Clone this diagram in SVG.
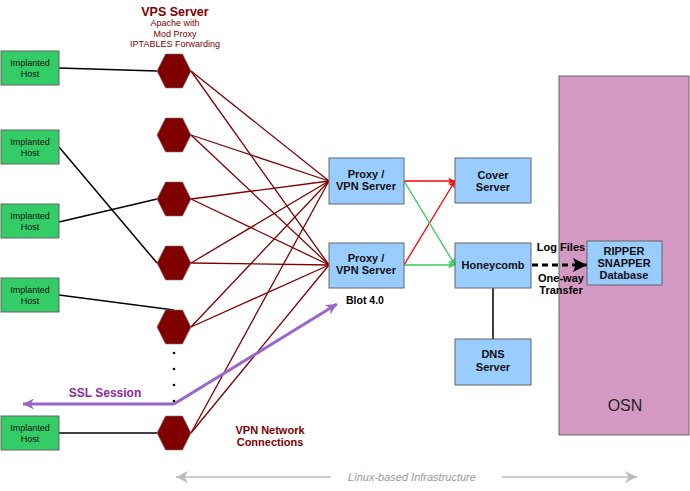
<svg xmlns="http://www.w3.org/2000/svg" width="690" height="491" viewBox="0 0 690 491">
<style>
text{font-family:"Liberation Sans",Arial,sans-serif;text-anchor:middle}
.host rect{fill:#33cc66;stroke:#666;stroke-width:1}
.host text{font-size:9px;fill:#111}
.hex{fill:#800000;stroke:#777;stroke-width:0.6}
.blue rect{fill:#99ccff;stroke:#666;stroke-width:1}
.blue text{font-size:11px;font-weight:bold;fill:#111}
.red{stroke:#800000;stroke-width:1.3;fill:none}
.blk{stroke:#000;stroke-width:1.5;fill:none}
.lbl{font-size:11px;font-weight:bold}
</style>
<defs>
<polygon id="hx" points="-17,0 -8.5,-17 8.5,-17 17,0 8.5,17 -8.5,17"/>
<marker id="ar" viewBox="0 0 10 10" refX="10" refY="5" markerWidth="7" markerHeight="7" orient="auto" markerUnits="userSpaceOnUse"><path d="M0,0L10,5L0,10L3,5z" fill="#ff0000"/></marker>
<marker id="ag" viewBox="0 0 10 10" refX="10" refY="5" markerWidth="7" markerHeight="7" orient="auto" markerUnits="userSpaceOnUse"><path d="M0,0L10,5L0,10L3,5z" fill="#33cc55"/></marker>
<marker id="ap" viewBox="0 0 10 10" refX="10" refY="5" markerWidth="13" markerHeight="11" orient="auto" markerUnits="userSpaceOnUse"><path d="M0,0L10,5L0,10L3,5z" fill="#9966cc"/></marker>
<marker id="ab" viewBox="0 0 10 10" refX="10" refY="5" markerWidth="16" markerHeight="14" orient="auto" markerUnits="userSpaceOnUse"><path d="M0,0L10,5L0,10L2,5z" fill="#000"/></marker>
<marker id="ay" viewBox="0 0 10 10" refX="10" refY="5" markerWidth="16" markerHeight="12" orient="auto" markerUnits="userSpaceOnUse"><path d="M0,0L10,5L0,10L3,5z" fill="#bbb"/></marker>
</defs>

<g id="osn">
<rect x="559" y="76" width="130" height="359" fill="#d399c2" stroke="#666" stroke-width="1"/>
<text x="625" y="411" style="font-size:16px;fill:#222">OSN</text>
</g>

<g id="connectors">
<g class="blk">
<line x1="59" y1="68" x2="157" y2="71"/>
<line x1="59" y1="147" x2="157" y2="263"/>
<line x1="59" y1="222" x2="157" y2="199"/>
<line x1="59" y1="295" x2="174" y2="310"/>
<line x1="59" y1="433" x2="157" y2="433"/>
<line x1="493" y1="288" x2="493" y2="339"/>
</g>
<g class="red">
<line x1="191" y1="71" x2="329" y2="181"/>
<line x1="191" y1="71" x2="329" y2="265"/>
<line x1="191" y1="135" x2="329" y2="181"/>
<line x1="191" y1="135" x2="329" y2="265"/>
<line x1="191" y1="199" x2="329" y2="181"/>
<line x1="191" y1="199" x2="329" y2="265"/>
<line x1="191" y1="263" x2="329" y2="181"/>
<line x1="191" y1="263" x2="329" y2="265"/>
<line x1="191" y1="327" x2="329" y2="181"/>
<line x1="191" y1="327" x2="329" y2="265"/>
<line x1="191" y1="433" x2="329" y2="181"/>
<line x1="191" y1="433" x2="329" y2="265"/>
</g>
<line x1="404" y1="181" x2="455" y2="181" stroke="#ff0000" stroke-width="1.3" marker-end="url(#ar)"/>
<line x1="404" y1="265" x2="455" y2="181" stroke="#ff0000" stroke-width="1.3" marker-end="url(#ar)"/>
<line x1="404" y1="181" x2="455" y2="265" stroke="#33cc55" stroke-width="1.3" marker-end="url(#ag)"/>
<line x1="404" y1="265" x2="455" y2="265" stroke="#33cc55" stroke-width="1.3" marker-end="url(#ag)"/>
<polyline points="174,404 23,404" fill="none" stroke="#9966cc" stroke-width="3" marker-end="url(#ap)"/>
<polyline points="174,404 337,304" fill="none" stroke="#9966cc" stroke-width="3" marker-end="url(#ap)"/>
<line x1="532" y1="265" x2="587" y2="265" stroke="#000" stroke-width="3" stroke-dasharray="6,4" marker-end="url(#ab)"/>
<line x1="331" y1="477" x2="176" y2="477" stroke="#bbb" stroke-width="1.3" marker-end="url(#ay)"/>
<line x1="502" y1="477" x2="637" y2="477" stroke="#bbb" stroke-width="1.3" marker-end="url(#ay)"/>
</g>

<g id="hosts">
<g id="host1" class="host"><rect x="1" y="51" width="58" height="34"/><text x="30" y="66">Implanted</text><text x="30" y="77">Host</text></g>
<g id="host2" class="host"><rect x="1" y="130" width="58" height="34"/><text x="30" y="145">Implanted</text><text x="30" y="156">Host</text></g>
<g id="host3" class="host"><rect x="1" y="204" width="58" height="34"/><text x="30" y="219">Implanted</text><text x="30" y="230">Host</text></g>
<g id="host4" class="host"><rect x="1" y="278" width="58" height="34"/><text x="30" y="293">Implanted</text><text x="30" y="304">Host</text></g>
<g id="host5" class="host"><rect x="1" y="416" width="58" height="34"/><text x="30" y="431">Implanted</text><text x="30" y="442">Host</text></g>
</g>

<g id="vps">
<text x="175" y="16" style="font-size:12.5px;font-weight:bold;fill:#800000">VPS Server</text>
<text x="175" y="26" style="font-size:9px;fill:#800000">Apache with</text>
<text x="175" y="37" style="font-size:9px;fill:#800000">Mod Proxy</text>
<text x="175" y="47" style="font-size:9px;fill:#800000">IPTABLES Forwarding</text>
<use id="hex1" href="#hx" x="174" y="71" class="hex"/>
<use id="hex2" href="#hx" x="174" y="135" class="hex"/>
<use id="hex3" href="#hx" x="174" y="199" class="hex"/>
<use id="hex4" href="#hx" x="174" y="263" class="hex"/>
<use id="hex5" href="#hx" x="174" y="327" class="hex"/>
<use id="hex6" href="#hx" x="174" y="433" class="hex"/>
<g fill="#000"><circle cx="174" cy="353" r="1.3"/><circle cx="174" cy="369" r="1.3"/><circle cx="174" cy="385" r="1.3"/><circle cx="174" cy="401" r="1.3"/></g>
</g>

<g id="proxy1" class="blue"><rect x="329" y="158" width="75" height="46"/><text x="366" y="178">Proxy /</text><text x="366" y="190">VPN Server</text></g>
<g id="proxy2" class="blue"><rect x="329" y="243" width="75" height="45"/><text x="366" y="262">Proxy /</text><text x="366" y="274">VPN Server</text></g>
<g id="cover" class="blue"><rect x="455" y="158" width="76" height="45"/><text x="493" y="179">Cover</text><text x="493" y="191">Server</text></g>
<g id="honeycomb" class="blue"><rect x="455" y="243" width="76" height="45"/><text x="493" y="269">Honeycomb</text></g>
<g id="dns" class="blue"><rect x="455" y="339" width="76" height="46"/><text x="493" y="358">DNS</text><text x="493" y="371">Server</text></g>
<g id="ripper" class="blue"><rect x="587" y="241" width="75" height="44"/><text x="624" y="255">RIPPER</text><text x="624" y="267">SNAPPER</text><text x="624" y="279">Database</text></g>

<g id="labels">
<text x="561" y="251" class="lbl">Log Files</text>
<text x="561" y="282" class="lbl">One-way</text>
<text x="561" y="294" class="lbl">Transfer</text>
<text x="365" y="304" class="lbl" style="font-size:10.5px">Blot 4.0</text>
<text x="105" y="397" style="font-size:12px;font-weight:bold;fill:#8b2c9c">SSL Session</text>
<text x="270" y="434" class="lbl" style="fill:#800000">VPN Network</text>
<text x="270" y="446" class="lbl" style="fill:#800000">Connections</text>
<text x="412" y="481" style="font-size:11px;font-style:italic;fill:#999">Linux-based Infrastructure</text>
</g>
</svg>
